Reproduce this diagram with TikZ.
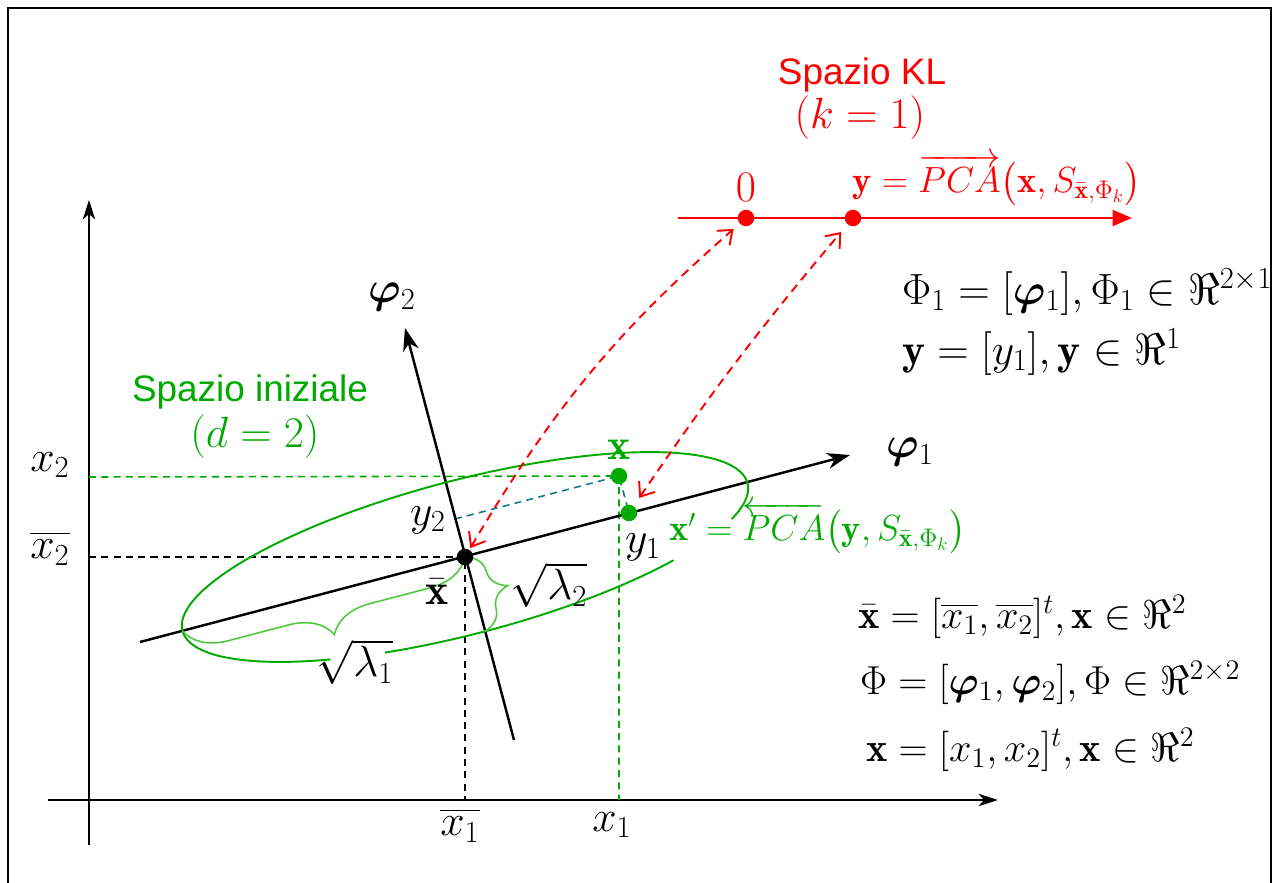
\RequirePackage{fix-cm}
\documentclass[tikz,border=0pt]{standalone}
\usepackage{amsmath, amssymb, bm}
\usepackage{fontspec}
\newfontfamily\arialfont{Liberation Sans}
\usetikzlibrary{arrows.meta, positioning, decorations.pathreplacing, calc}

\definecolor{klred}{RGB}{255,0,0}
\definecolor{ingreen}{RGB}{0,170,0}
\definecolor{bracegreen}{RGB}{80,200,60}
\definecolor{projteal}{RGB}{20,120,140}

\tikzset{
  lbl/.style={font=\fontsize{24.9}{29}\selectfont, inner sep=1pt},
  deflbl/.style={font=\fontsize{23}{27}\selectfont, inner sep=1pt, anchor=west},
  pcalbl/.style={font=\fontsize{20.7}{25}\selectfont, inner sep=1pt},
  title/.style={font=\arialfont\fontsize{21}{25}\selectfont, inner sep=1pt},
  ptdot/.style={circle, inner sep=0pt, minimum size=0.33cm},
  axis/.style={line width=1.1pt, -{Stealth[length=11pt, width=7pt, inset=3pt]}},
  phiaxis/.style={line width=1.4pt, -{Stealth[length=13pt, width=9pt, inset=4pt]}},
  gdash/.style={ingreen, line width=0.9pt, dash pattern=on 4pt off 3pt},
  kdash/.style={black, line width=0.9pt, dash pattern=on 4pt off 3pt},
  tdash/.style={projteal, line width=0.9pt, dash pattern=on 4pt off 3pt},
  kldash/.style={klred, line width=1.1pt, dash pattern=on 5pt off 3.5pt,
    {Straight Barb[length=7pt, width=11pt]}-{Straight Barb[length=7pt, width=11pt]}},
  lbrace/.style={bracegreen, line width=0.9pt, decorate}
}

\begin{document}
\begin{tikzpicture}[x=0.02cm, y=-0.02cm]
  \useasboundingbox (0,0) rectangle (1279,883);
  % frame
  \draw[line width=1.2pt] (8,900) -- (8,8) -- (1271,8) -- (1271,900);

  % points
  \coordinate (xbarc) at (465,557);
  \coordinate (xc) at (619,476);
  \coordinate (xpc) at (629,513);
  \coordinate (y2c) at (455,519);
  \coordinate (lend) at (182.5,631);
  \coordinate (pend) at (484.5,631.5);

  % axes of the initial space
  \draw[axis] (89,845) coordinate (ybot) -- (89,200) coordinate (ytop);
  \draw[axis] (48,800) coordinate (xleft) -- (998,800) coordinate (xright);

  % projections
  \draw[gdash] (89,477) -- (xc) -- (619,800);
  \draw[kdash] (89,557) -- (xbarc) -- (465,800);
  \draw[tdash] (y2c) -- (xc) -- (xpc);

  % principal axes
  \draw[phiaxis] (140,642) -- (850,455) coordinate (phi1tip);
  \draw[phiaxis] (514,740) -- (405,328) coordinate (phi2tip);

  % ellipse (gaps for the labels)
  \draw[ingreen, line width=1.1pt] plot[domain=-23.6:237.7, samples=120, smooth]
    ({465+292*cos(\x)*0.9675-77*sin(\x)*0.253}, {557-292*cos(\x)*0.253-77*sin(\x)*0.9675});
  \draw[ingreen, line width=1.1pt] plot[domain=249.6:313.5, samples=40, smooth]
    ({465+292*cos(\x)*0.9675-77*sin(\x)*0.253}, {557-292*cos(\x)*0.253-77*sin(\x)*0.9675});

  % braces
  \draw[lbrace, decoration={brace, amplitude=0.84cm}] (xbarc) -- (lend);
  \draw[lbrace, decoration={brace, amplitude=0.68cm}] (xbarc) -- (pend);

  % points
  \node[ptdot, fill=black] (xbar) at (xbarc) {};
  \node[ptdot, fill=ingreen] (xpt) at (xc) {};
  \node[ptdot, fill=ingreen] (xproj) at (xpc) {};

  % KL space
  \draw[klred, line width=1.4pt, -{Triangle[length=11pt, width=9pt]}] (678,218) coordinate (klstart) -- (1132,218) coordinate (klend);
  \node[ptdot, fill=klred] (zero) at (746,218) {};
  \node[ptdot, fill=klred] (ypt) at (853,218) {};

  \draw[kldash, shorten <=1pt, shorten >=4.5pt] (xbar) to[bend left=9] (zero);
  \draw[kldash, shorten <=5.5pt, shorten >=5.5pt] (xproj) to[bend left=3] (ypt);

  % labels
  \node[title, text=klred] (kltitle) at (862,75) {Spazio KL};
  \node[lbl, text=klred] (kldim) at (860,118) {$(k=1)$};
  \node[lbl, text=klred, above=0.12cm of zero] (zerolab) {$0$};
  \node[pcalbl, text=klred] (ylab) at (997,180)
    {$\mathbf{y}=\overrightarrow{PCA}\bigl(\mathbf{x},S_{\bar{\mathbf{x}},\Phi_k}\bigr)$};

  \node[title, text=ingreen] (intitle) at (250,392) {Spazio iniziale};
  \node[lbl, text=ingreen] (indim) at (255,437) {$(d=2)$};

  \node[lbl] (phi2lab) at (392,297) {$\bm{\varphi}_2$};
  \node[lbl] (phi1lab) at (910,452) {$\bm{\varphi}_1$};

  \node[lbl] (x2lab) at (50,465) {$x_2$};
  \node[lbl] (x2barlab) at (50,548) {$\overline{x_2}$};
  \node[lbl] (x1barlab) at (460,825) {$\overline{x_1}$};
  \node[lbl] (x1lab) at (612,825) {$x_1$};

  \node[lbl, text=ingreen] (xlab) at (619,450) {$\mathbf{x}$};
  \node[lbl] (y2lab) at (428,520) {$y_2$};
  \node[lbl] (y1lab) at (643,547) {$y_1$};
  \node[lbl] (xbarlab) at (437,592) {$\bar{\mathbf{x}}$};
  \node[lbl] (lam2lab) at (549,585) {$\sqrt{\lambda_2}$};
  \node[lbl] (lam1lab) at (355,662) {$\sqrt{\lambda_1}$};
  \node[pcalbl, text=ingreen, anchor=west] (xplab) at (667,528)
    {$\mathbf{x}'=\overleftarrow{PCA}\bigl(\mathbf{y},S_{\bar{\mathbf{x}},\Phi_k}\bigr)$};

  % definitions
  \node[lbl, anchor=west] (defphi1) at (900,292) {$\Phi_1=[\bm{\varphi}_1],\Phi_1\in\Re^{2\times1}$};
  \node[lbl, anchor=west] (defy) at (900,352) {$\mathbf{y}=[y_1],\mathbf{y}\in\Re^{1}$};
  \node[deflbl] (defxbar) at (856,617) {$\bar{\mathbf{x}}=[\overline{x_1},\overline{x_2}]^t,\mathbf{x}\in\Re^{2}$};
  \node[deflbl] (defphi) at (858,683) {$\Phi=[\bm{\varphi}_1,\bm{\varphi}_2],\Phi\in\Re^{2\times2}$};
  \node[deflbl] (defx) at (864,750) {$\mathbf{x}=[x_1,x_2]^t,\mathbf{x}\in\Re^{2}$};
\end{tikzpicture}
\end{document}
